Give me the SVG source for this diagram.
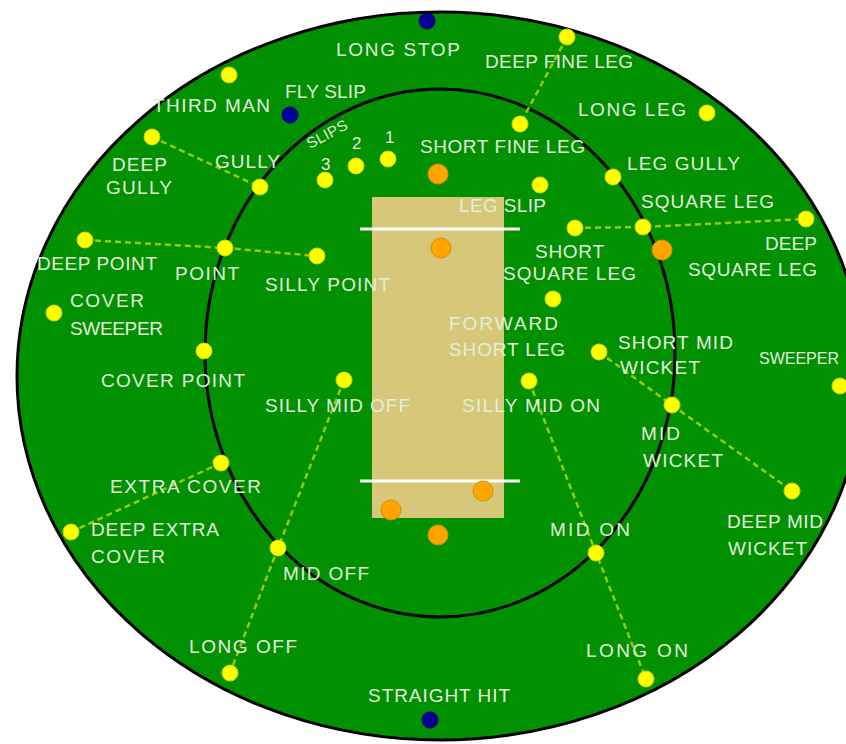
<svg xmlns="http://www.w3.org/2000/svg" width="846" height="744" viewBox="0 0 846 744">
<style>
.lbl{font-family:"Liberation Sans",Arial,sans-serif;font-size:19px;fill:#e2efdc;lengthAdjust:spacing}
.y{fill:#ffff00;stroke:#c8d800;stroke-width:1}
.o{fill:#ffa500;stroke:#d98c00;stroke-width:1}
.b{fill:#000099;stroke:#000066;stroke-width:1}
.dash{fill:none;stroke:#99cc00;stroke-width:2.5;stroke-dasharray:6 4}
</style>
<rect width="846" height="744" fill="#ffffff"/>
<g id="field">
<ellipse cx="440" cy="376" rx="423" ry="364" fill="#009000" stroke="#000" stroke-width="3"/>
<ellipse cx="440" cy="353" rx="235" ry="264" fill="none" stroke="#000" stroke-width="3"/>
<rect x="372" y="197" width="132" height="321" fill="#d6c878"/>
<line x1="360" y1="229" x2="520" y2="229" stroke="#fff" stroke-width="3"/>
<line x1="360" y1="481" x2="520" y2="481" stroke="#fff" stroke-width="3"/>
</g>
<g id="connectors">
<polyline class="dash" points="567,37 520,124"/>
<polyline class="dash" points="152,137 260,187"/>
<polyline class="dash" points="85,240 225,248 317,256"/>
<polyline class="dash" points="575,228 643,227 806,219"/>
<polyline class="dash" points="599,352 672,405 792,491"/>
<polyline class="dash" points="344,380 278,548 230,673"/>
<polyline class="dash" points="529,381 596,553 646,679"/>
<polyline class="dash" points="221,463 71,532"/>
</g>
<g id="bowler-keeper">
<circle class="o" cx="438" cy="174" r="10"/>
<circle class="o" cx="441" cy="248" r="10"/>
<circle class="o" cx="391" cy="510" r="10"/>
<circle class="o" cx="483" cy="491" r="10"/>
<circle class="o" cx="438" cy="535" r="10"/>
<circle class="o" cx="662" cy="250" r="10"/>
</g>
<g id="long-stop"><circle class="b" cx="427" cy="21" r="8"/><text class="lbl" x="336" y="56" textLength="124">LONG STOP</text></g>
<g id="fly-slip"><circle class="b" cx="290" cy="115" r="8"/><text class="lbl" x="285" y="98" textLength="81">FLY SLIP</text></g>
<g id="straight-hit"><circle class="b" cx="430" cy="720" r="8"/><text class="lbl" x="368" y="702" textLength="142">STRAIGHT HIT</text></g>
<g id="third-man"><circle class="y" cx="229" cy="75" r="8"/><text class="lbl" x="153" y="112" textLength="117">THIRD MAN</text></g>
<g id="deep-gully"><circle class="y" cx="152" cy="137" r="8"/><text class="lbl" x="112" y="171" textLength="55">DEEP</text><text class="lbl" x="106" y="194" textLength="66">GULLY</text></g>
<g id="gully"><circle class="y" cx="260" cy="187" r="8"/><text class="lbl" x="215" y="168" textLength="65">GULLY</text></g>
<g id="slips">
<circle class="y" cx="325" cy="180" r="8"/><circle class="y" cx="356" cy="166" r="8"/><circle class="y" cx="388" cy="159" r="8"/>
<text class="lbl" x="310" y="149" style="font-size:15px" textLength="44" transform="rotate(-28 310 149)">SLIPS</text>
<text class="lbl" x="321" y="170" style="font-size:17px">3</text>
<text class="lbl" x="352" y="149" style="font-size:17px">2</text>
<text class="lbl" x="385" y="143" style="font-size:17px">1</text>
</g>
<g id="deep-fine-leg"><circle class="y" cx="567" cy="37" r="8"/><text class="lbl" x="485" y="68" textLength="148">DEEP FINE LEG</text></g>
<g id="short-fine-leg"><circle class="y" cx="520" cy="124" r="8"/><text class="lbl" x="420" y="153" textLength="165">SHORT FINE LEG</text></g>
<g id="long-leg"><circle class="y" cx="707" cy="113" r="8"/><text class="lbl" x="578" y="116" textLength="108">LONG LEG</text></g>
<g id="leg-gully"><circle class="y" cx="613" cy="177" r="8"/><text class="lbl" x="627" y="170" textLength="113">LEG GULLY</text></g>
<g id="leg-slip"><circle class="y" cx="540" cy="185" r="8"/><text class="lbl" x="459" y="212" textLength="87">LEG SLIP</text></g>
<g id="square-leg"><circle class="y" cx="643" cy="227" r="8"/><text class="lbl" x="641" y="208" textLength="133">SQUARE LEG</text></g>
<g id="short-square-leg"><circle class="y" cx="575" cy="228" r="8"/><text class="lbl" x="535" y="258" textLength="69">SHORT</text><text class="lbl" x="503" y="280" textLength="133">SQUARE LEG</text></g>
<g id="deep-square-leg"><circle class="y" cx="806" cy="219" r="8"/><text class="lbl" x="765" y="250" textLength="52">DEEP</text><text class="lbl" x="688" y="276" textLength="129">SQUARE LEG</text></g>
<g id="deep-point"><circle class="y" cx="85" cy="240" r="8"/><text class="lbl" x="37" y="270" textLength="120">DEEP POINT</text></g>
<g id="point"><circle class="y" cx="225" cy="248" r="8"/><text class="lbl" x="175" y="280" textLength="64">POINT</text></g>
<g id="silly-point"><circle class="y" cx="317" cy="256" r="8"/><text class="lbl" x="265" y="291" textLength="125">SILLY POINT</text></g>
<g id="cover-sweeper"><circle class="y" cx="54" cy="313" r="8"/><text class="lbl" x="70" y="307" textLength="74">COVER</text><text class="lbl" x="70" y="335" textLength="93">SWEEPER</text></g>
<g id="cover-point"><circle class="y" cx="204" cy="351" r="8"/><text class="lbl" x="101" y="387" textLength="144">COVER POINT</text></g>
<g id="forward-short-leg"><circle class="y" cx="553" cy="299" r="8"/><text class="lbl" x="449" y="330" textLength="109">FORWARD</text><text class="lbl" x="449" y="356" textLength="116">SHORT LEG</text></g>
<g id="short-mid-wicket"><circle class="y" cx="599" cy="352" r="8"/><text class="lbl" x="618" y="349" textLength="115">SHORT MID</text><text class="lbl" x="620" y="374" textLength="80">WICKET</text></g>
<g id="sweeper"><circle class="y" cx="840" cy="386" r="8"/><text class="lbl" x="759" y="364" style="font-size:16px">SWEEPER</text></g>
<g id="silly-mid-off"><circle class="y" cx="344" cy="380" r="8"/><text class="lbl" x="265" y="412" textLength="145">SILLY MID OFF</text></g>
<g id="silly-mid-on"><circle class="y" cx="529" cy="381" r="8"/><text class="lbl" x="462" y="412" textLength="138">SILLY MID ON</text></g>
<g id="mid-wicket"><circle class="y" cx="672" cy="405" r="8"/><text class="lbl" x="641" y="440" textLength="39">MID</text><text class="lbl" x="643" y="467" textLength="80">WICKET</text></g>
<g id="extra-cover"><circle class="y" cx="221" cy="463" r="8"/><text class="lbl" x="110" y="493" textLength="151">EXTRA COVER</text></g>
<g id="deep-extra-cover"><circle class="y" cx="71" cy="532" r="8"/><text class="lbl" x="91" y="536" textLength="128">DEEP EXTRA</text><text class="lbl" x="91" y="563" textLength="74">COVER</text></g>
<g id="deep-mid-wicket"><circle class="y" cx="792" cy="491" r="8"/><text class="lbl" x="727" y="528" textLength="96">DEEP MID</text><text class="lbl" x="728" y="555" textLength="79">WICKET</text></g>
<g id="mid-on"><circle class="y" cx="596" cy="553" r="8"/><text class="lbl" x="550" y="536" textLength="80">MID ON</text></g>
<g id="mid-off"><circle class="y" cx="278" cy="548" r="8"/><text class="lbl" x="283" y="580" textLength="86">MID OFF</text></g>
<g id="long-off"><circle class="y" cx="230" cy="673" r="8"/><text class="lbl" x="189" y="653" textLength="108">LONG OFF</text></g>
<g id="long-on"><circle class="y" cx="646" cy="679" r="8"/><text class="lbl" x="586" y="657" textLength="102">LONG ON</text></g>
</svg>
